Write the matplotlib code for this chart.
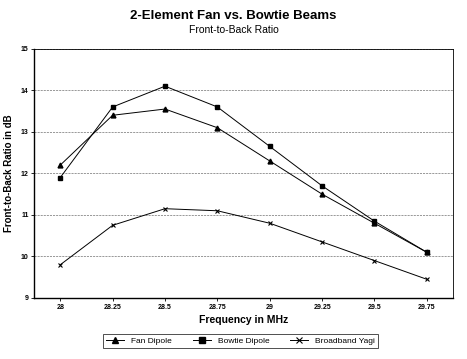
import matplotlib
matplotlib.use("Agg")
import matplotlib.pyplot as plt
import numpy as np

plt.rcParams['font.family'] = ['Liberation Sans', 'DejaVu Sans']

freqs = ["28", "28.25", "28.5", "28.75", "29", "29.25", "29.5", "29.75"]
fan_dipole = [12.2, 13.4, 13.55, 13.1, 12.3, 11.5, 10.8, 10.1]
bowtie_dipole = [11.9, 13.6, 14.1, 13.6, 12.65, 11.7, 10.85, 10.1]
broadband_yagi = [9.8, 10.75, 11.15, 11.1, 10.8, 10.35, 9.9, 9.45]

fig = plt.figure(figsize=(4.67, 3.59), dpi=100)
ax = fig.add_axes([0.073, 0.170, 0.897, 0.694])

x = np.arange(len(freqs))
ax.plot(x, fan_dipole, color="black", lw=0.7, marker="^", ms=3.5, label="Fan Dipole")
ax.plot(x, bowtie_dipole, color="black", lw=0.7, marker="s", ms=3.5, label="Bowtie Dipole")
ax.plot(x, broadband_yagi, color="black", lw=0.7, marker="x", ms=3.5, mew=0.8, label="Broadband Yagi")

ax.set_xlim(-0.5, len(freqs) - 0.5)
ax.set_ylim(9, 15)
ax.set_xticks(x)
ax.set_xticklabels(freqs, fontsize=5, fontweight="bold")
ax.set_yticks(range(9, 16))
ax.set_yticklabels([str(v) for v in range(9, 16)], fontsize=5, fontweight="bold")
ax.tick_params(length=2, width=0.6, pad=2)
ax.grid(axis="y", color="#888888", ls=(0, (2.5, 1.2)), lw=0.6)
for s in ["top", "right"]:
    ax.spines[s].set_linewidth(0.6)
for s in ["left", "bottom"]:
    ax.spines[s].set_linewidth(1.0)

ax.set_xlabel("Frequency in MHz", fontsize=7.5, fontweight="bold", labelpad=3)
ax.set_ylabel("Front-to-Back Ratio in dB", fontsize=7, fontweight="bold", labelpad=5)

fig.text(0.5, 0.972, "2-Element Fan vs. Bowtie Beams", ha="center", va="top",
         fontsize=9.5, fontweight="bold")
fig.text(0.5, 0.930, "Front-to-Back Ratio", ha="center", va="top", fontsize=7.5)

leg = fig.legend(loc="center", bbox_to_anchor=(0.515, 0.050), ncol=3, fontsize=6,
                 frameon=True, fancybox=False, edgecolor="black", handlelength=2.2,
                 columnspacing=2.5, borderpad=0.4, markerscale=1.3)
leg.get_frame().set_linewidth(0.6)

fig.savefig("out.png", dpi=100)
